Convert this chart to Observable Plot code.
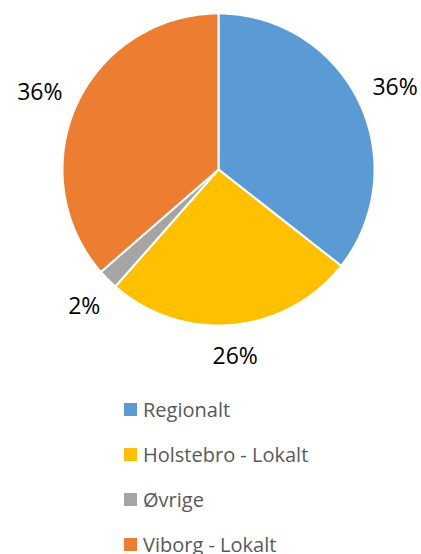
<!DOCTYPE html>
<html>
<head>
<meta charset="utf-8">
<script src="https://cdn.jsdelivr.net/npm/d3@7"></script>
<script src="https://cdn.jsdelivr.net/npm/@observablehq/plot@0.6"></script>
<style>
  html, body { margin: 0; padding: 0; background: #fff; width: 421px; height: 554px; overflow: hidden; }
  #legend { font-family: "Open Sans", sans-serif; font-size: 20px; color: #595959; margin-top: 7px; }
  .row { height: 45px; display: flex; align-items: center; padding-left: 124px; }
  .sw { width: 13px; height: 13px; margin-right: 6px; }
</style>
</head>
<body>
<div id="chart"></div>
<div id="legend"></div>
<script>
const categories = ["Regionalt", "Holstebro - Lokalt", "Øvrige", "Viborg - Lokalt"];
const values = [35.6, 25.9, 2.1, 36.4];
const labels = ["36%", "26%", "2%", "36%"];
const colors = ["#5B9BD5", "#FFC000", "#A5A5A5", "#ED7D31"];

const pie = d3.pie().sort(null).value(d => d.value)(
  categories.map((c, i) => ({cat: c, value: values[i], label: labels[i]}))
);

const pts = [];
for (const a of pie) {
  const c = a.data.cat;
  pts.push({cat: c, x: 0, y: 0});
  const n = Math.max(4, Math.ceil((a.endAngle - a.startAngle) / 0.01));
  for (let k = 0; k <= n; k++) {
    const t = a.startAngle + (a.endAngle - a.startAngle) * k / n;
    pts.push({cat: c, x: Math.sin(t), y: Math.cos(t)});
  }
  pts.push({cat: c, x: 0, y: 0});
}
// outside-end label placement: gap from rim plus half the label box extent along the direction
const R = 156, gap = 17, lh = 17;
const labelPts = pie.map(a => {
  const m = (a.startAngle + a.endAngle) / 2;
  const w = 14.5 * a.data.label.length;
  const ext = Math.abs(Math.sin(m)) * w / 2 + Math.abs(Math.cos(m)) * lh / 2;
  const d = (R + gap + ext) / R;
  return {label: a.data.label, x: d * Math.sin(m), y: d * Math.cos(m)};
});

const plot = Plot.plot({
  width: 421,
  height: 380,
  margin: 0,
  x: {domain: [-1, 1], range: [62, 374], axis: null},
  y: {domain: [-1, 1], range: [325, 13], axis: null},
  color: {domain: categories, range: colors},
  style: {background: "#fff"},
  marks: [
    Plot.line(pts, {x: "x", y: "y", z: "cat", fill: "cat", stroke: "#fff", strokeWidth: 2, curve: "linear"}),
    Plot.text(labelPts, {x: "x", y: "y", text: "label", fontSize: 23, fill: "#000", dy: 4,
      fontFamily: "Open Sans, sans-serif", textAnchor: "middle", lineAnchor: "middle"})
  ]
});
document.getElementById("chart").appendChild(plot);

const lg = document.getElementById("legend");
categories.forEach((c, i) => {
  const row = document.createElement("div");
  row.className = "row";
  const sw = document.createElement("span");
  sw.className = "sw";
  sw.style.background = colors[i];
  const tx = document.createElement("span");
  tx.textContent = c;
  row.appendChild(sw);
  row.appendChild(tx);
  lg.appendChild(row);
});
</script>
</body>
</html>
